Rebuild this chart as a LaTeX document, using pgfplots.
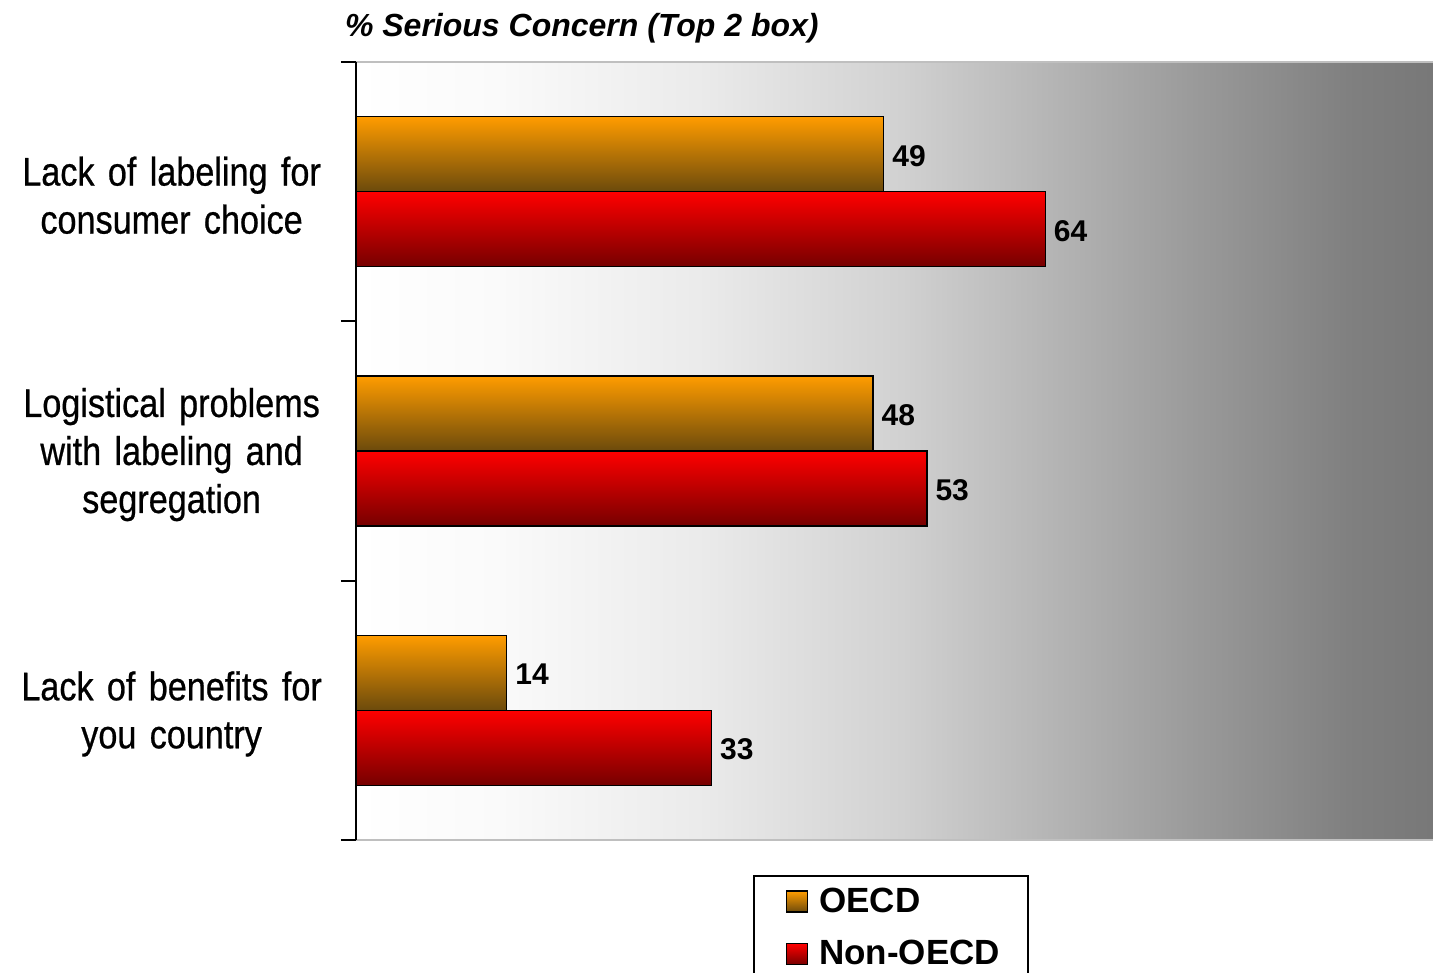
\documentclass[border=0pt]{standalone}
\usepackage{fontspec}
\setmainfont{Liberation Sans}
\newfontfamily\narrowfont[FakeStretch=0.855, WordSpace=0.7, FakeBold=0.6]{Liberation Sans}
\usepackage{pgfplots}
\pgfplotsset{compat=1.18}
\definecolor{oecdtop}{HTML}{FF9C00}
\definecolor{oecdbot}{HTML}{6B4A0C}
\definecolor{nontop}{HTML}{FF0000}
\definecolor{nonbot}{HTML}{760000}
\pgfdeclarehorizontalshading{bgshade}{100bp}{color(0bp)=(white); color(25bp)=(white); color(31.7bp)=(white!98!black); color(41bp)=(white!92!black); color(50.3bp)=(white!82!black); color(57.2bp)=(white!71!black); color(64.2bp)=(white!60!black); color(71.2bp)=(white!50!black); color(75bp)=(white!47!black); color(100bp)=(white!47!black)}
\pgfplotsset{
  oecd/.style={draw=black, line width=0.7pt, top color=oecdtop, bottom color=oecdbot, bar shift=-0.1445},
  nonoecd/.style={draw=black, line width=0.7pt, top color=nontop, bottom color=nonbot, bar shift=0.1445},
}
\begin{document}
\begin{tikzpicture}
\begin{axis}[
  at={(178pt,66.5pt)}, anchor=south west,
  scale only axis, width=538.5pt, height=389pt,
  xmin=0, xmax=100, ymin=-0.5, ymax=2.5, y dir=reverse,
  xtick=\empty,
  ytick={0,1,2},
  yticklabels={{Lack of labeling for\\consumer choice},{Logistical problems\\with labeling and\\segregation},{Lack of benefits for\\you country}},
  minor ytick={-0.5,0.5,1.5,2.5},
  major tick length=0pt, minor tick length=7.5pt, tick align=outside,
  tick style={black, line width=1pt},
  yticklabel style={font=\narrowfont\fontsize{20}{24}\selectfont, align=center, text width=170pt, inner xsep=0pt, xshift=-7pt, yshift=-1.8pt},
  axis line style={draw=none},
  axis background/.style={shading=bgshade},
  xbar, bar width=0.289,
  /pgf/number format/assume math mode=true,
  nodes near coords,
  nodes near coords style={font=\bfseries\fontsize{15}{18}\selectfont, anchor=west, inner sep=0pt, xshift=4pt, yshift=-0.8pt, black},
  clip=false,
  legend image code/.code={\path[#1, draw=black, line width=0.8pt] (0pt,-5.25pt) rectangle (10.5pt,5.25pt);},
  legend style={at={(0.3985,-0.056)}, anchor=north west, draw=none, fill=none,
    font=\bfseries\fontsize{17.5}{20}\selectfont, inner sep=0pt, row sep=8.5pt, column sep=3.5pt},
  legend cell align=left,
]
\addplot[oecd] coordinates {(49,0)};
\addlegendentry{OECD}
\addplot[nonoecd] coordinates {(64,0)};
\addlegendentry{Non-OECD}
\addplot[oecd, forget plot] coordinates {(48,1)};
\addplot[oecd, forget plot] coordinates {(14,2)};
\addplot[nonoecd, forget plot] coordinates {(53,1)};
\addplot[nonoecd, forget plot] coordinates {(33,2)};
\draw[black!25, line width=1.2pt] (rel axis cs:0,0) -- (rel axis cs:1,0);
\draw[black!25, line width=1.2pt] (rel axis cs:0,1) -- (rel axis cs:1,1);
\draw[black, line width=1.2pt] (rel axis cs:0,0) -- (rel axis cs:0,1);
\end{axis}
\node[anchor=base west, font=\bfseries\itshape\fontsize{16}{19}\selectfont] at (169pt,468pt) {\% Serious Concern (Top 2 box)};
\draw[black, line width=1pt] (377pt,-5pt) rectangle (514pt,48.5pt);
\pgfresetboundingbox
\path[use as bounding box] (0pt,0pt) rectangle (716.5pt,486.5pt);
\end{tikzpicture}
\end{document}
